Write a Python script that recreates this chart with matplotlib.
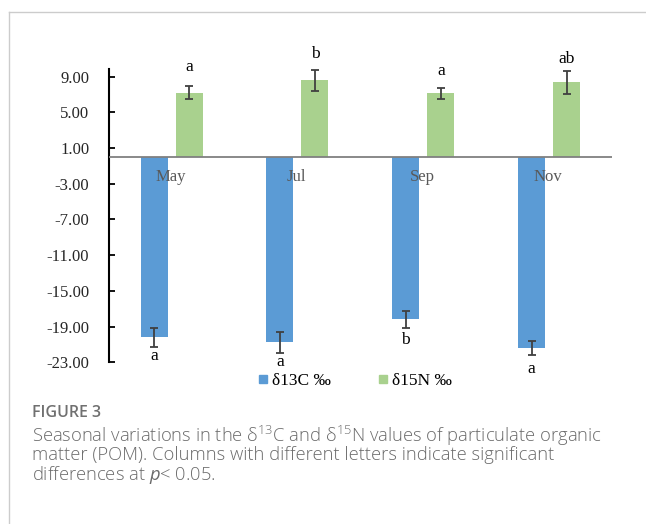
import matplotlib.pyplot as plt
import numpy as np
from matplotlib.lines import Line2D

months = ['May', 'Jul', 'Sep', 'Nov']
d13c = [-20.2, -20.75, -18.2, -21.4]
d13c_err = [1.05, 1.17, 0.97, 0.8]
d15n = [7.2, 8.57, 7.11, 8.34]
d15n_err = [0.75, 1.14, 0.66, 1.33]
d13c_letters = ['a', 'a', 'b', 'a']
d15n_letters = ['a', 'b', 'a', 'ab']

# baseline heights of the significance letters (data units)
d13c_letter_y = [-22.7, -23.45, -20.95, -24.2]
d15n_letter_y = [9.67, 11.13, 9.15, 10.52]

blue = '#5B9BD5'
green = '#A9D18E'
serif = ['Liberation Serif', 'DejaVu Serif']

plt.rcParams['mathtext.fontset'] = 'custom'
plt.rcParams['mathtext.rm'] = 'Open Sans'
plt.rcParams['mathtext.it'] = 'Open Sans:italic'

fig = plt.figure(figsize=(6.46, 5.24), dpi=100)
W, H = 646, 524
ax = fig.add_axes([108.7 / W, 1 - 362.3 / H, (612 - 108.7) / W, (362.3 - 69) / H])

x = np.arange(len(months))
width = 0.215
off = 0.139
ekw = dict(ecolor='#404040', elinewidth=1.3, capsize=3, capthick=1.3)
ax.bar(x - off, d13c, width, color=blue, yerr=d13c_err, error_kw=ekw, zorder=2)
ax.bar(x + off, d15n, width, color=green, yerr=d15n_err, error_kw=ekw, zorder=2)
ax.axhline(0, color='#808080', lw=1.3, zorder=3)

for i in range(len(months)):
    ax.text(x[i] - 0.01, -2.25, months[i], ha='center', va='center',
            fontsize=12, family=serif, color='#595959', zorder=4)
    ax.text(x[i] - off, d13c_letter_y[i], d13c_letters[i], ha='center',
            va='baseline', fontsize=12.5, family=serif, clip_on=False)
    ax.text(x[i] + off, d15n_letter_y[i], d15n_letters[i], ha='center',
            va='baseline', fontsize=12.5, family=serif, clip_on=False)

ax.set_xlim(-0.5, 3.5)
ax.set_ylim(-23, 9.85)
ax.set_yticks(np.arange(-23, 10, 4))
ax.set_yticklabels(['%.2f' % v for v in np.arange(-23, 10, 4)],
                   family=serif, fontsize=12, color='#262626')
ax.set_xticks([])
for s in ['top', 'right', 'bottom']:
    ax.spines[s].set_visible(False)
ax.spines['left'].set_linewidth(1.5)
ax.tick_params(axis='y', direction='in', length=4, width=1.3, pad=14)

handles = [Line2D([], [], ls='none', marker='s', ms=6, color=blue),
           Line2D([], [], ls='none', marker='s', ms=6, color=green)]
fig.legend(handles, ['δ13C ‰', 'δ15N ‰'], loc='center', ncol=2,
           bbox_to_anchor=(354 / W, 1 - 381 / H), frameon=False,
           prop={'family': serif, 'size': 12.5}, handletextpad=0.1,
           columnspacing=2.6, handlelength=0.8)

# frame around the figure panel
fig.add_artist(Line2D([9 / W, 1], [1 - 12 / H] * 2, color='#cccccc', lw=1))
fig.add_artist(Line2D([9 / W] * 2, [0, 1 - 12 / H], color='#cccccc', lw=1))

cap = dict(family='Open Sans', color='#6b6b6b', fontsize=13.2, weight='light')
fig.text(32 / W, 1 - 413 / H, 'FIGURE 3', family='Open Sans', color='#707070',
         fontsize=11.5, weight='semibold', va='center')
fig.text(32 / W, 1 - 435.5 / H,
         r'Seasonal variations in the δ$\mathregular{^{13}}$C and δ$\mathregular{^{15}}$N values of particulate organic',
         va='center', **cap)
fig.text(32 / W, 1 - 455.5 / H,
         'matter (POM). Columns with different letters indicate significant',
         va='center', **cap)
fig.text(32 / W, 1 - 474.5 / H, r'differences at $\mathit{p}$< 0.05.',
         va='center', **cap)

fig.savefig('out.png', dpi=100)
